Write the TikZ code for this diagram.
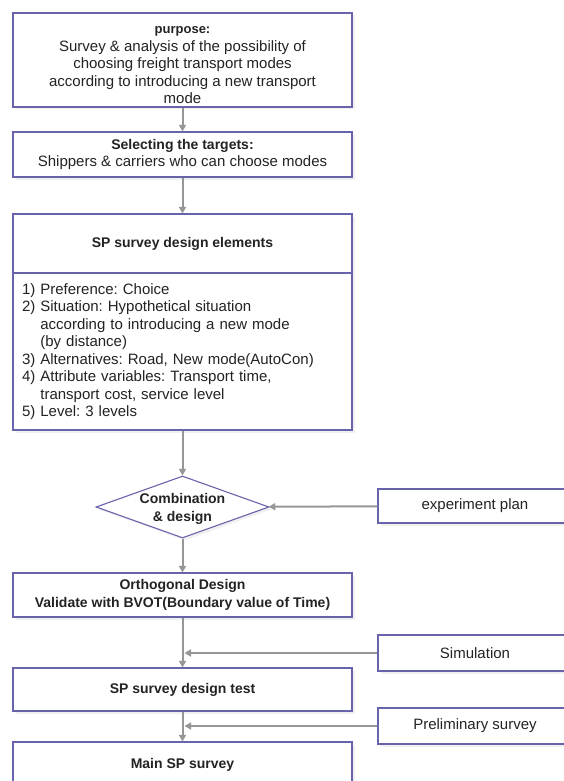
\documentclass[tikz,border=0pt]{standalone}
\usepackage{fontspec}
\setmainfont{Liberation Sans}
\usetikzlibrary{arrows.meta,shapes.geometric,shadows}
\frenchspacing

\begin{document}
\begin{tikzpicture}[x=1pt, y=-1pt, >={Triangle[width=7pt,length=6.5pt]},
    font=\fontsize{15}{17.5}\selectfont,
    box/.style={draw=frame, line width=1.1pt, fill=white, text=ink,
      align=center, minimum width=339pt, inner sep=4pt,
      drop shadow={shadow xshift=2.5pt, shadow yshift=-2.5pt, opacity=0.12}},
    title/.style={font=\fontsize{14}{17.5}\selectfont\bfseries},
    sidebox/.style={box, minimum width=194pt, minimum height=36pt},
    decision/.style={box, diamond, minimum width=173pt, minimum height=62pt,
      inner sep=0pt},
    flow/.style={->, draw=arrowgray, line width=2pt}]
  \definecolor{frame}{RGB}{104,100,172}
  \definecolor{ink}{RGB}{35,35,35}
  \definecolor{arrowgray}{RGB}{150,150,150}

  \useasboundingbox (0,0) rectangle (564,781);

  % main column
  \node[box, inner ysep=0pt, minimum height=94pt] (purpose) at (182.5,60)
    {{\fontsize{13}{17.5}\selectfont\bfseries\rule{0pt}{18pt}purpose:}\\
     Survey \& analysis of the possibility of\\
     choosing freight transport modes\\
     according to introducing a new transport\\
     mode};
  \node[box, minimum height=45pt] (targets) at (182.5,154.5)
    {{\fontsize{14}{17.5}\selectfont\bfseries Selecting the targets:}\\
     Shippers \& carriers who can choose modes};
  \node[box, title, minimum height=59pt] (elemhead) at (182.5,243.5)
    {SP survey design elements};
  \node[box, minimum height=157pt, text width=321pt, align=left]
    (elemlist) at (182.5,351.5)
    {1) Preference: Choice\\
     2) Situation: Hypothetical situation\\
     \phantom{2) }according to introducing a new mode\\
     \phantom{2) }(by distance)\\
     3) Alternatives: Road, New mode(AutoCon)\\
     4) Attribute variables: Transport time,\\
     \phantom{4) }transport cost, service level\\
     5) Level: 3 levels};
  \node[decision, label={[align=center, text=ink, title,
      yshift=-2pt]center:Combination\\\& design}]
    (comb) at (182.5,507) {};
  \node[box, title, minimum height=44pt] (ortho) at (182.5,595)
    {Orthogonal Design\\Validate with BVOT(Boundary value of Time)};
  \node[box, title, minimum height=43pt] (test) at (182.5,689.5)
    {SP survey design test};
  \node[box, title, minimum height=46pt] (main) at (182.5,765)
    {Main SP survey};

  % inputs on the right
  \node[sidebox, minimum height=34pt] (plan) at (475,506) {experiment plan};
  \node[sidebox] (sim) at (475,653) {Simulation};
  \node[sidebox] (prelim) at (475,726) {Preliminary survey};

  \draw[flow] (purpose) -- (targets);
  \draw[flow] (targets) -- (elemhead);
  \draw[flow] (elemlist) -- (comb);
  \draw[flow] (plan) -- (comb);
  \draw[flow] (comb) -- (ortho);
  \draw[flow] (ortho) -- (test);
  \draw[flow] (test) -- (main);
  \draw[flow, shorten >=2pt] (sim) -- (sim.west -| test.north);
  \draw[flow, shorten >=2pt] (prelim) -- (prelim.west -| main.north);
\end{tikzpicture}
\end{document}
